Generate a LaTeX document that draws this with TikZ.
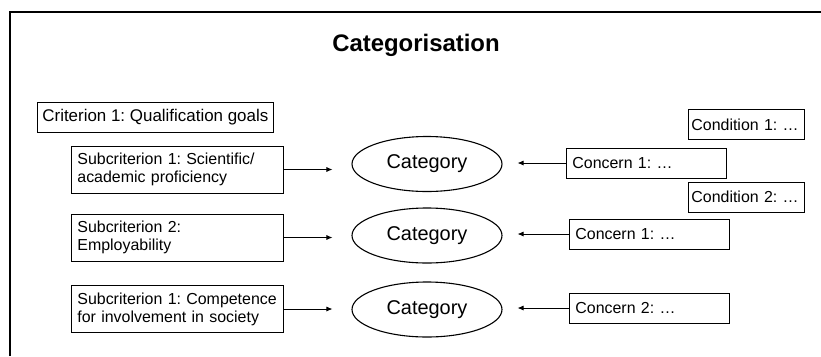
\documentclass[tikz,border=0pt]{standalone}
\usepackage{fontspec}
\setmainfont{Liberation Sans}
\frenchspacing
\hyphenpenalty=10000
\usetikzlibrary{%
  arrows.meta,%
  shapes.geometric,% wg. ellipse
  positioning%
}

\begin{document}
\begin{tikzpicture}[
  x=1bp, y=-1bp,
  >={Latex[length=6bp,width=5bp]},
  line width=0.8bp,
  critbox/.style={rectangle, anchor=west, minimum height=30bp, inner xsep=5bp, draw=black, font=\fontsize{17}{20}\selectfont},
  subbox/.style={rectangle, anchor=west, text width=200bp, minimum height=47bp, inner xsep=6bp, align=left, draw=black, font=\fontsize{16}{18}\selectfont},
  concbox/.style={rectangle, anchor=west, text width=148bp, minimum height=30bp, inner xsep=6bp, align=left, draw=black, font=\fontsize{16}{18}\selectfont},
  condbox/.style={rectangle, anchor=west, text width=110bp, minimum height=30bp, inner xsep=3bp, align=left, draw=black, font=\fontsize{16}{18}\selectfont},
  category/.style={ellipse, minimum width=150bp, minimum height=55bp, inner sep=0pt, draw=black, line width=1.1bp, font=\fontsize{20}{24}\selectfont}
]
\useasboundingbox (0,0) rectangle (821,356);

\draw[line width=1.5bp] (10,356) -- (10,12) -- (821,12);

\node[font=\bfseries\fontsize{24}{28}\selectfont] (title) at (416,45) {Categorisation};

\node[critbox] (crit) at (37,117) {Criterion 1: Qualification goals};

\node[subbox] (sub1) at (71,169.5) {Subcriterion 1: Scientific/\\ academic proficiency};
\node[subbox] (sub2) at (71,237.5) {Subcriterion 2:\\ Employability};
\node[subbox] (sub3) at (71,309) {Subcriterion 1: Competence\\ for involvement in society};

\node[category] (cat1) at (427,164) {Category};
\node[category] (cat2) at (427,235.5) {Category};
\node[category] (cat3) at (427,309.5) {Category};

\node[condbox] (cond1) at (688,124.5) {Condition 1: …};
\node[concbox] (conc1) at (566,163) {Concern 1: …};
\node[condbox] (cond2) at (688,197) {Condition 2: …};
\node[concbox] (conc2) at (569,234) {Concern 1: …};
\node[concbox] (conc3) at (569,308) {Concern 2: …};

\foreach \i in {1,2,3} {
  \draw[->, shorten >=19bp] (sub\i.east) -- (sub\i.east -| cat\i.west);
  \draw[->, shorten >=15bp] (conc\i.west) -- (conc\i.west -| cat\i.east);
}

\end{tikzpicture}
\end{document}
